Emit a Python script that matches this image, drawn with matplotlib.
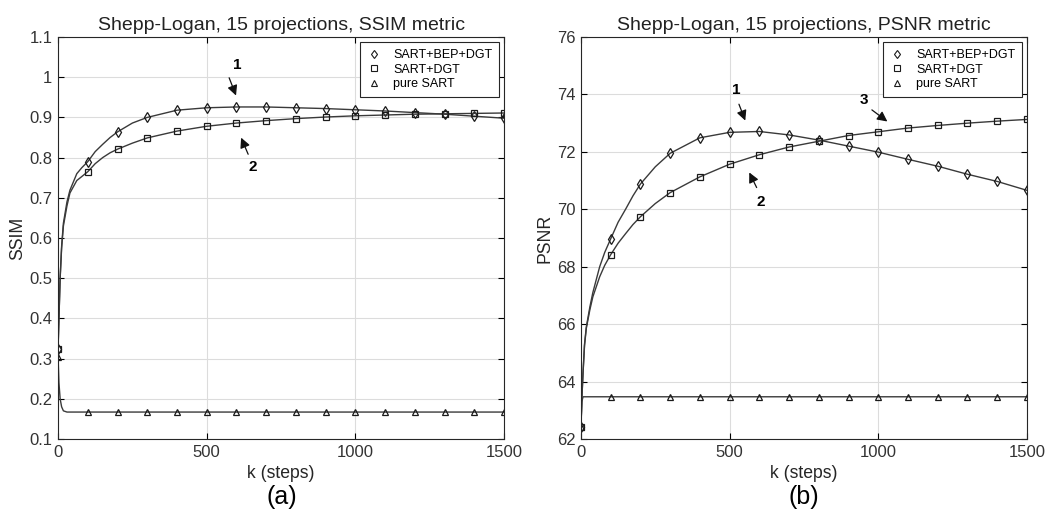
import matplotlib.pyplot as plt
from matplotlib.lines import Line2D

plt.rcParams['font.family'] = ['Liberation Sans', 'DejaVu Sans']

k = [0, 3, 7, 12, 18, 30, 40, 63, 80, 100, 125, 150, 175, 200, 250, 300, 400,
     500, 600, 700, 800, 900, 1000, 1100, 1200, 1300, 1400, 1500]

ssim_bep = [0.325, 0.40, 0.50, 0.58, 0.637, 0.69, 0.719, 0.76, 0.775, 0.79,
            0.815, 0.833, 0.85, 0.864, 0.886, 0.900, 0.918, 0.924, 0.926,
            0.926, 0.924, 0.922, 0.919, 0.916, 0.912, 0.908, 0.903, 0.898]
ssim_dgt = [0.325, 0.40, 0.50, 0.575, 0.63, 0.68, 0.712, 0.743, 0.753, 0.765,
            0.785, 0.800, 0.812, 0.821, 0.836, 0.849, 0.866, 0.878, 0.886,
            0.892, 0.897, 0.901, 0.904, 0.906, 0.908, 0.909, 0.910, 0.911]
ssim_sart = [0.305, 0.24, 0.20, 0.18, 0.17, 0.167, 0.167, 0.167, 0.167, 0.167,
             0.167, 0.167, 0.167, 0.167, 0.167, 0.167, 0.167, 0.167, 0.167,
             0.167, 0.167, 0.167, 0.167, 0.167, 0.167, 0.167, 0.167, 0.167]

psnr_bep = [62.4, 63.4, 64.3, 65.3, 65.9, 66.6, 67.1, 68.0, 68.5, 68.97,
            69.55, 70.0, 70.47, 70.88, 71.48, 71.95, 72.49, 72.68, 72.71,
            72.59, 72.41, 72.20, 71.99, 71.74, 71.50, 71.22, 70.97, 70.66]
psnr_dgt = [62.4, 63.4, 64.3, 65.25, 65.85, 66.5, 66.95, 67.65, 68.05, 68.42,
            68.82, 69.15, 69.47, 69.74, 70.2, 70.58, 71.13, 71.57, 71.90,
            72.17, 72.37, 72.57, 72.70, 72.83, 72.92, 73.00, 73.07, 73.13]
psnr_sart = [62.4, 63.3, 63.47, 63.47, 63.47, 63.47, 63.47, 63.47, 63.47,
             63.47, 63.47, 63.47, 63.47, 63.47, 63.47, 63.47, 63.47, 63.47,
             63.47, 63.47, 63.47, 63.47, 63.47, 63.47, 63.47, 63.47, 63.47,
             63.47]

labels = ['SART+BEP+DGT', 'SART+DGT', 'pure SART']
markers = ['d', 's', '^']

# markers only every 100 steps
mark_idx = [i for i, v in enumerate(k) if v % 100 == 0]

fig = plt.figure(figsize=(10.46, 5.2), dpi=100)
ax1 = fig.add_axes([0.0555, 0.1558, 0.4264, 0.773])
ax2 = fig.add_axes([0.5554, 0.1558, 0.4264, 0.773])


def draw(ax, series, title, ylabel, ylim, yticks, yticklabels, arrows):
    for y, m in zip(series, markers):
        ax.plot(k, y, color='#3a3a3a', lw=1.0, marker=m, markevery=mark_idx,
                ms=5 if m != 'd' else 5.5, mfc='none', mec='#1a1a1a', mew=0.9)
    ax.set_xlim(0, 1500)
    ax.set_ylim(*ylim)
    ax.set_xticks([0, 500, 1000, 1500])
    ax.set_yticks(yticks)
    ax.set_yticklabels(yticklabels)
    ax.grid(True, color='#dcdcdc', lw=0.8)
    ax.tick_params(direction='in', top=True, right=True, labelsize=12,
                   labelcolor='#333333', length=4, pad=4)
    for s in ax.spines.values():
        s.set_color('#262626')
    ax.set_title(title, fontsize=14, color='#222222', pad=5)
    ax.set_xlabel('k (steps)', fontsize=12.7, color='#262626')
    ax.set_ylabel(ylabel, fontsize=12.7, color='#262626', labelpad=2)
    handles = [Line2D([], [], ls='none', marker=m, mfc='none', mec='#1a1a1a',
                      ms=4.5, mew=0.8) for m in markers]
    leg = ax.legend(handles, labels, loc='upper right', fontsize=9,
                    handlelength=1.2, handletextpad=0.9, labelspacing=0.22,
                    borderpad=0.55, borderaxespad=0.4, fancybox=False,
                    framealpha=1)
    leg.get_frame().set_edgecolor('#262626')
    leg.get_frame().set_linewidth(0.8)
    for txt, (lx, ly), (tx, ty), (hx, hy) in arrows:
        ax.text(lx, ly, txt, fontsize=11, fontweight='bold', ha='center',
                va='center')
        ax.annotate('', xy=(hx, hy), xytext=(tx, ty),
                    arrowprops=dict(arrowstyle='-|>', color='#111111',
                                    lw=0.9, mutation_scale=15))


ssim_ticks = [0.1, 0.2, 0.3, 0.4, 0.5, 0.6, 0.7, 0.8, 0.9, 1.0, 1.1]
ssim_tick_labels = ['0.1', '0.2', '0.3', '0.4', '0.5', '0.6', '0.7', '0.8',
                    '0.9', '1', '1.1']
psnr_ticks = [62, 64, 66, 68, 70, 72, 74, 76]

draw(ax1, [ssim_bep, ssim_dgt, ssim_sart],
     'Shepp-Logan, 15 projections, SSIM metric', 'SSIM', (0.1, 1.1),
     ssim_ticks, ssim_tick_labels,
     [('1', (602, 1.030), (572, 1.005), (602, 0.948)),
      ('2', (654, 0.777), (643, 0.802), (612, 0.856))])
draw(ax2, [psnr_bep, psnr_dgt, psnr_sart],
     'Shepp-Logan, 15 projections, PSNR metric', 'PSNR', (62, 76),
     psnr_ticks, [str(t) for t in psnr_ticks],
     [('1', (522, 74.15), (528, 73.75), (556, 73.0)),
      ('2', (604, 70.26), (595, 70.67), (562, 71.37)),
      ('3', (951, 73.8), (971, 73.52), (1038, 73.0))])

fig.text(0.2697, 0.044, '(a)', fontsize=18, ha='center', va='center')
fig.text(0.7686, 0.044, '(b)', fontsize=18, ha='center', va='center')

fig.savefig('out.png', dpi=100)
